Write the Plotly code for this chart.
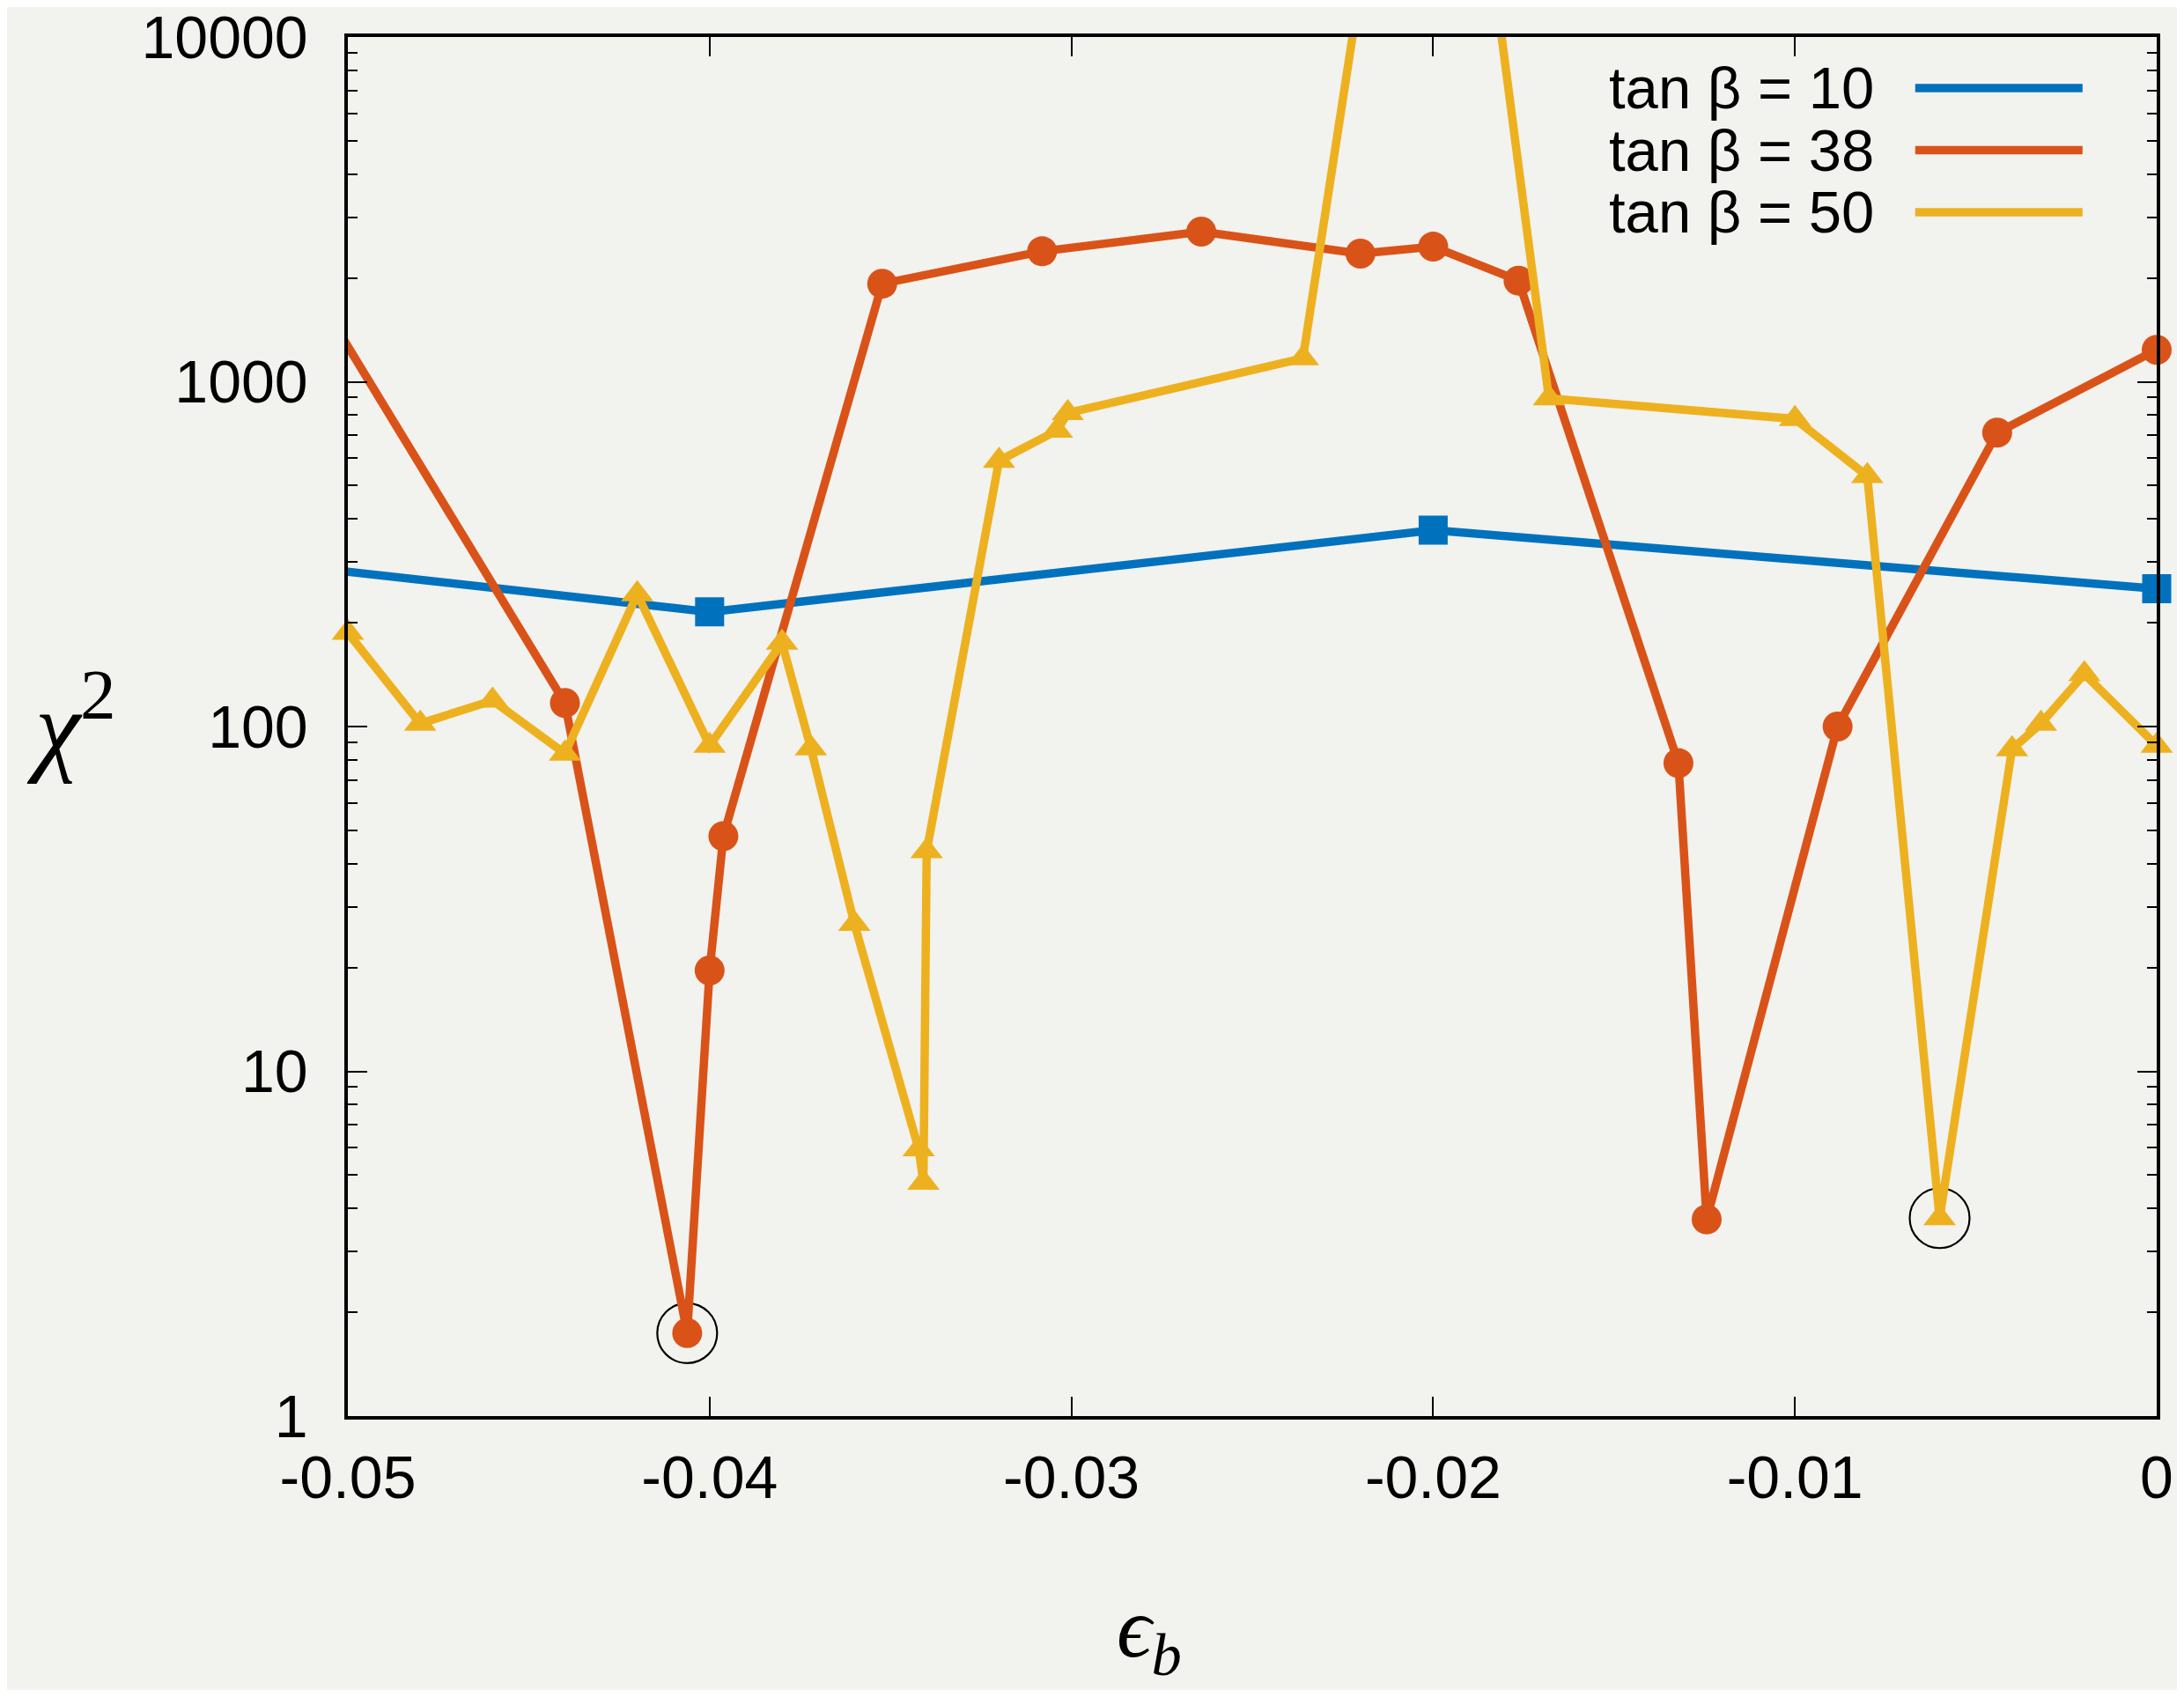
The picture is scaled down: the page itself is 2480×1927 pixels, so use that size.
import plotly.graph_objects as go

# ---------------- data ----------------
series_names = ["tan β = 10", "tan β = 38", "tan β = 50"]
series_colors = ["#0072bd", "#d95319", "#edb120"]
series_symbols = ["square", "circle", "triangle-up"]

x_tb10 = [-0.06, -0.04, -0.02, 0.0]
y_tb10 = [368, 215, 371, 251]

x_tb38 = [-0.0528, -0.0440, -0.04062, -0.0400, -0.03962, -0.03523, -0.03081,
          -0.02641, -0.02201, -0.0200, -0.01764, -0.01322, -0.01244, -0.00882,
          -0.00441, 0.0]
y_tb38 = [3850, 117, 1.74, 19.6, 48.1, 1925, 2390, 2725, 2352, 2465, 1965,
          78.3, 3.72, 100, 712, 1238]

x_tb50 = [-0.05, -0.048, -0.046, -0.044, -0.042, -0.040, -0.038, -0.0372,
          -0.036, -0.03422, -0.03409, -0.034, -0.032, -0.0304, -0.0301,
          -0.0236, -0.020, -0.0168, -0.010, -0.008, -0.006, -0.004, -0.0032,
          -0.002, 0.0]
y_tb50 = [187, 102, 119, 83.5, 242, 88, 175, 86.5, 26.8, 5.94, 4.75, 43.5,
          590, 722, 812, 1170, 330000, 895, 780, 533, 3.75, 86, 102, 142, 88]

# highlighted best-fit minima (open circles)
x_best = [-0.04062, -0.006]
y_best = [1.74, 3.75]

x_tickvals = [-0.05, -0.04, -0.03, -0.02, -0.01, 0.0]
x_ticktext = ["-0.05", "-0.04", "-0.03", "-0.02", "-0.01", "0"]
y_tickvals = [1, 10, 100, 1000, 10000]
y_ticktext = ["1", "10", "100", "1000", "10000"]

X_RANGE = [-0.05, 0.0]
Y_RANGE_LOG = [0, 4]

# ---------------- figure ----------------
BG = "#f2f2ee"
SANS = "Liberation Sans, Arial, Helvetica, sans-serif"
TICK_FONT = dict(family=SANS, size=68, color="black")
SERIF = "Liberation Serif, Times New Roman, DejaVu Serif, serif"
LW = 9.5
MS = [33, 34, 32]

fig = go.Figure()

# circles marking the best points (drawn underneath)
fig.add_trace(go.Scatter(
    x=x_best, y=y_best, mode="markers", cliponaxis=False, showlegend=False,
    marker=dict(symbol="circle-open", size=68, color="black", line=dict(width=2.2, color="black")),
    hoverinfo="skip"))

data = [(x_tb10, y_tb10), (x_tb38, y_tb38), (x_tb50, y_tb50)]
for i, (xs, ys) in enumerate(data):
    # line (clipped to the plot box)
    fig.add_trace(go.Scatter(
        x=xs, y=ys, mode="lines", cliponaxis=True, showlegend=False,
        line=dict(color=series_colors[i], width=LW), name=series_names[i]))
    # markers (only in-range points, not clipped so edge markers are whole)
    keep = [(a, b) for a, b in zip(xs, ys)
            if X_RANGE[0] - 1e-9 <= a <= X_RANGE[1] + 1e-9 and b <= 10 ** Y_RANGE_LOG[1]]
    fig.add_trace(go.Scatter(
        x=[k[0] for k in keep], y=[k[1] for k in keep], mode="markers",
        cliponaxis=False, showlegend=False,
        marker=dict(symbol=series_symbols[i], size=MS[i], color=series_colors[i],
                    line=dict(width=0)),
        name=series_names[i]))

# figure sits inside the page's 8px body margin
W, H = 2464, 1911
L, R, T, B = 387, 23, 34, 311

# custom legend: text on the left, line sample on the right
leg_y = [0.963, 0.918, 0.873]
for i in range(3):
    fig.add_annotation(
        xref="paper", yref="paper", x=0.8445, y=leg_y[i], xanchor="right", yanchor="middle",
        text=series_names[i], showarrow=False,
        font=dict(family=SANS, size=67, color="black"))
    fig.add_shape(type="line", xref="paper", yref="paper",
                  x0=0.8665, x1=0.9590, y0=leg_y[i], y1=leg_y[i],
                  line=dict(color=series_colors[i], width=LW))

# axis titles
fig.add_annotation(xref="paper", yref="paper", x=-0.153, y=0.505, xanchor="center", yanchor="middle",
                   text="<i>χ</i><sup>2</sup>", showarrow=False,
                   font=dict(family=SERIF, size=116, color="black"))
fig.add_annotation(xref="paper", yref="paper", x=0.443, y=-0.158, xanchor="center", yanchor="middle",
                   text="<i>ϵ<sub>b</sub></i>", showarrow=False,
                   font=dict(family=SERIF, size=98, color="black"))

axis_common = dict(showline=True, linecolor="black", linewidth=3.5, mirror="ticks",
                   ticks="inside", tickcolor="black", tickwidth=2.2, ticklen=22,
                   showgrid=False, zeroline=False, tickfont=TICK_FONT,
                   ticklabeloverflow="allow", automargin=False)

fig.update_xaxes(range=X_RANGE, tickvals=x_tickvals, ticktext=x_ticktext,
                 ticklabelstandoff=8, **axis_common)
fig.update_yaxes(type="log", range=Y_RANGE_LOG, tickvals=y_tickvals, ticktext=y_ticktext,
                 ticklabelstandoff=28,
                 minor=dict(ticks="inside", ticklen=11, tickwidth=2.2, tickcolor="black",
                            dtick="D1", showgrid=False),
                 **axis_common)

fig.update_layout(width=W, height=H, margin=dict(l=L, r=R, t=T, b=B, autoexpand=False),
                  paper_bgcolor=BG, plot_bgcolor=BG, showlegend=False)

fig.write_html("out.html")
